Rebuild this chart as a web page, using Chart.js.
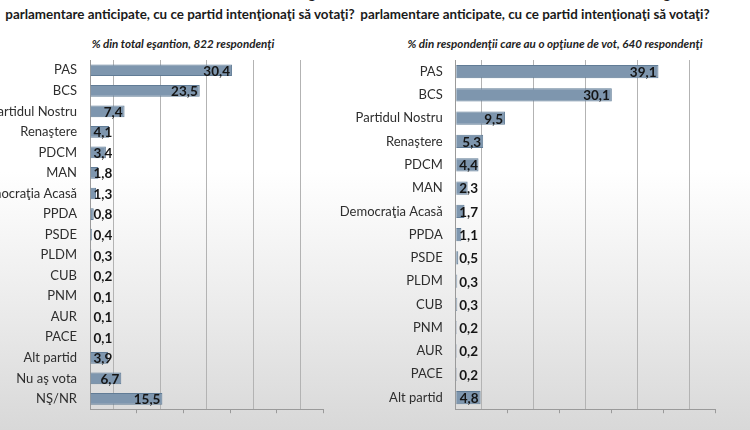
<!DOCTYPE html>
<html>
<head>
<meta charset="utf-8">
<script src="https://cdn.jsdelivr.net/npm/chart.js@4.4.1/dist/chart.umd.min.js"></script>
<style>
  html, body { margin: 0; padding: 0; }
  body {
    width: 750px; height: 430px; overflow: hidden; position: relative;
    background: linear-gradient(to bottom, #ffffff 0%, #ffffff 40%, #e9e9e9 75%, #d8d8d8 100%);
    font-family: Lato, "Open Sans", sans-serif;
  }
  .title {
    position: absolute; width: 420px; text-align: center;
    font-weight: bold; font-size: 13.4px; color: #1a1a1a; white-space: nowrap;
  }
  .sub {
    position: absolute; width: 420px; text-align: center;
    font-weight: bold; font-style: italic; font-size: 11.6px; color: #222; white-space: nowrap;
  }
  canvas { position: absolute; top: 0; }
</style>
</head>
<body>
<div class="title" style="left:-30px; top:-14px;">În cazul în care duminica viitoare ar avea loc alegeri</div>
<div class="title" style="left:-30px; top:6px;">parlamentare anticipate, cu ce partid intenţionaţi să votaţi?</div>
<div class="title" style="left:325px; top:-14px;">În cazul în care duminica viitoare ar avea loc alegeri</div>
<div class="title" style="left:325px; top:6px;">parlamentare anticipate, cu ce partid intenţionaţi să votaţi?</div>
<div class="sub" style="left:-27px; top:37px;">% din total eşantion, 822 respondenţi</div>
<div class="sub" style="left:345px; top:37px;">% din respondenţii care au o opţiune de vot, 640 respondenţi</div>

<div style="position:absolute; left:0; top:0; width:330px; height:430px;"><canvas id="leftChart"></canvas></div>
<div style="position:absolute; left:330px; top:0; width:420px; height:430px;"><canvas id="rightChart"></canvas></div>

<script>
// all respondents
var leftLabels = ["PAS", "BCS", "Partidul Nostru", "Renaştere", "PDCM", "MAN", "Democraţia Acasă", "PPDA",
    "PSDE", "PLDM", "CUB", "PNM", "AUR", "PACE", "Alt partid", "Nu aş vota", "NŞ/NR"];
var leftValues = [30.4, 23.5, 7.4, 4.1, 3.4, 1.8, 1.3, 0.8, 0.4, 0.3, 0.2, 0.1, 0.1, 0.1, 3.9, 6.7, 15.5];

// respondents with a vote option
var rightLabels = ["PAS", "BCS", "Partidul Nostru", "Renaştere", "PDCM", "MAN", "Democraţia Acasă", "PPDA",
    "PSDE", "PLDM", "CUB", "PNM", "AUR", "PACE", "Alt partid"];
var rightValues = [39.1, 30.1, 9.5, 5.3, 4.4, 2.3, 1.7, 1.1, 0.5, 0.3, 0.3, 0.2, 0.2, 0.2, 4.8];

var axisMax = 50;
var gridStep = 5;

// value labels at the inner end of each bar
var valueLabels = {
    id: 'valueLabels',
    afterDatasetsDraw: function (chart) {
        var ctx = chart.ctx;
        var meta = chart.getDatasetMeta(0);
        var values = chart.data.datasets[0].data;
        ctx.save();
        ctx.font = "bold 13.5px Lato, 'Open Sans', sans-serif";
        ctx.fillStyle = "#151515";
        ctx.textBaseline = "middle";
        ctx.textAlign = "left";
        meta.data.forEach(function (bar, i) {
            var txt = values[i].toFixed(1).replace('.', ',');
            var w = ctx.measureText(txt).width;
            var x = Math.max(bar.x - 2 - w, bar.base + 3);
            ctx.fillText(txt, x, bar.y + 1);
        });
        ctx.restore();
    }
};

function makeChart(id, labels, values, axisWidth, padRight) {
    var ctx = document.getElementById(id).getContext("2d");
    return new Chart(ctx, {
        type: "bar",
        data: {
            labels: labels,
            datasets: [{
                data: values,
                backgroundColor: "#7e96ae",
                borderColor: "#617c96",
                borderWidth: 1,
                barPercentage: 0.57,
                categoryPercentage: 1.0
            }]
        },
        options: {
            indexAxis: 'y',
            responsive: true,
            maintainAspectRatio: false,
            animation: false,
            layout: {
                padding: { top: 60, bottom: 2, left: 0, right: padRight }
            },
            plugins: {
                legend: { display: false },
                tooltip: { enabled: false }
            },
            scales: {
                x: {
                    min: 0,
                    max: axisMax,
                    afterFit: function (scale) { scale.height = 5; },
                    ticks: { display: false, stepSize: gridStep },
                    border: { display: true, color: "#9a9a9a", width: 1 },
                    grid: {
                        drawTicks: true,
                        tickLength: 4,
                        color: function (c) {
                            return (c.tick && c.tick.value % 10 === 5) ? "#b3b3b3" : "rgba(0,0,0,0)";
                        },
                        tickColor: function (c) {
                            return (c.tick && c.tick.value % 10 === 0 && c.tick.value > 0) ? "#9a9a9a" : "rgba(0,0,0,0)";
                        }
                    }
                },
                y: {
                    afterFit: function (scale) { scale.width = axisWidth; },
                    border: { display: true, color: "#9a9a9a", width: 1 },
                    grid: { display: false, drawTicks: false },
                    ticks: {
                        color: "#2e2e2e",
                        padding: 13,
                        autoSkip: false,
                        font: { size: 13, family: "Lato, 'Open Sans', sans-serif" }
                    }
                }
            }
        },
        plugins: [valueLabels]
    });
}

makeChart("leftChart", leftLabels, leftValues, 90, 6.5);
makeChart("rightChart", rightLabels, rightValues, 125.7, 35);
</script>
</body>
</html>
